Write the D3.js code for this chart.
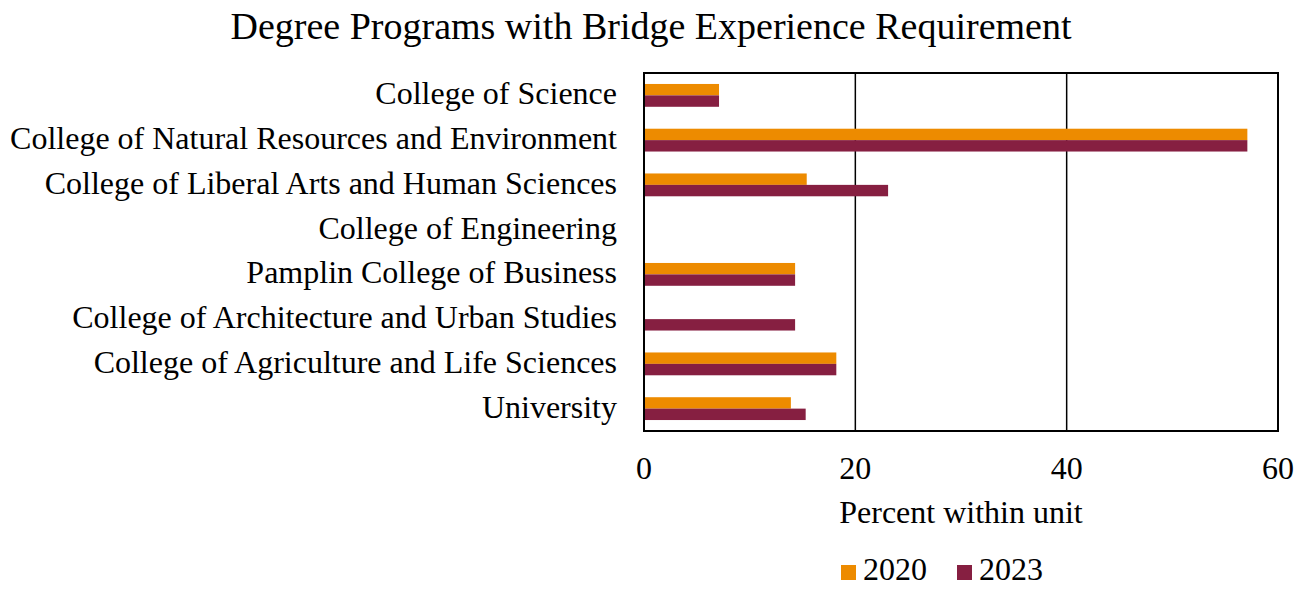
<!DOCTYPE html>
<html>
<head>
<meta charset="utf-8">
<script src="https://cdn.jsdelivr.net/npm/d3@7"></script>
<style>
  body { margin: 0; background: #fff; }
  text { font-family: "Liberation Serif", "Times New Roman", serif; fill: #000; }
</style>
</head>
<body>
<svg></svg>
<script>
var width = 1309;
var height = 589;

// data (percent within unit)
var colleges = ['College of Science', 'College of Natural Resources and Environment', 'College of Liberal Arts and Human Sciences', 'College of Engineering', 'Pamplin College of Business', 'College of Architecture and Urban Studies', 'College of Agriculture and Life Sciences', 'University'];
var values2020 = [7.1, 57.1, 15.4, 0, 14.3, 0, 18.2, 13.9];
var values2023 = [7.1, 57.1, 23.1, 0, 14.3, 14.3, 18.2, 15.3];
var years = ['2020', '2023'];
var xTicks = [0, 20, 40, 60];

var colors = {'2020': '#ED8B00', '2023': '#861F41'};

var margin = {top: 73, left: 644, right: 31, bottom: 158};
var plotW = width - margin.left - margin.right;
var plotH = height - margin.top - margin.bottom;

var svg = d3.select('svg')
            .attr('width', width)
            .attr('height', height);

var x = d3.scaleLinear().domain([0, 60]).range([0, plotW]);
var y = d3.scaleBand().domain(colleges).range([0, plotH]).paddingInner(0.49).paddingOuter(0.245);
var ySub = d3.scaleBand().domain(years).range([0, y.bandwidth()]);

var g = svg.append('g')
        .attr('transform', `translate(${margin.left}, ${margin.top})`);

//Title
svg.append('text')
    .attr('x', 651)
    .attr('y', 39)
    .style('text-anchor', 'middle')
    .style('font-size', '38px')
    .text('Degree Programs with Bridge Experience Requirement');

//Gridlines
g.selectAll('.grid')
    .data(xTicks.slice(1, -1))
    .enter()
    .append('line')
        .attr('x1', d => x(d))
        .attr('x2', d => x(d))
        .attr('y1', 0)
        .attr('y2', plotH)
        .attr('stroke', '#000')
        .attr('stroke-width', 1.5);

//Bars
var rows = colleges.map((c, i) => ({college: c, values: [values2020[i], values2023[i]]}));

g.selectAll('.row')
    .data(rows)
    .enter()
    .append('g')
        .attr('transform', d => `translate(0, ${y(d.college)})`)
    .selectAll('rect')
    .data(d => d.values.map((v, i) => ({year: years[i], value: v})))
    .enter()
    .append('rect')
        .attr('x', 0)
        .attr('y', d => ySub(d.year))
        .attr('width', d => x(d.value))
        .attr('height', ySub.bandwidth())
        .attr('fill', d => colors[d.year]);

//Plot border
g.append('rect')
    .attr('width', plotW)
    .attr('height', plotH)
    .attr('fill', 'none')
    .attr('stroke', '#000')
    .attr('stroke-width', 2);

//Category labels
g.selectAll('.cat')
    .data(colleges)
    .enter()
    .append('text')
        .attr('x', -27)
        .attr('y', d => y(d) + y.bandwidth() / 2 + 9)
        .style('text-anchor', 'end')
        .style('font-size', '32px')
        .text(d => d);

//Tick labels
g.selectAll('.tick-label')
    .data(xTicks)
    .enter()
    .append('text')
        .attr('x', d => x(d))
        .attr('y', plotH + 48)
        .style('text-anchor', 'middle')
        .style('font-size', '32px')
        .text(d => d);

//Axis title
g.append('text')
    .attr('x', plotW / 2)
    .attr('y', plotH + 92)
    .style('text-anchor', 'middle')
    .style('font-size', '32px')
    .text('Percent within unit');

//Legend
var legend = svg.append('g')
    .attr('transform', 'translate(841, 565)');

var item = legend.selectAll('.item')
    .data(years)
    .enter()
    .append('g')
        .attr('transform', (d, i) => `translate(${i * 116}, 0)`);

item.append('rect')
    .attr('width', 15)
    .attr('height', 15)
    .attr('fill', d => colors[d]);

item.append('text')
    .attr('x', 22)
    .attr('y', 15)
    .style('font-size', '32px')
    .text(d => d);
</script>
</body>
</html>
